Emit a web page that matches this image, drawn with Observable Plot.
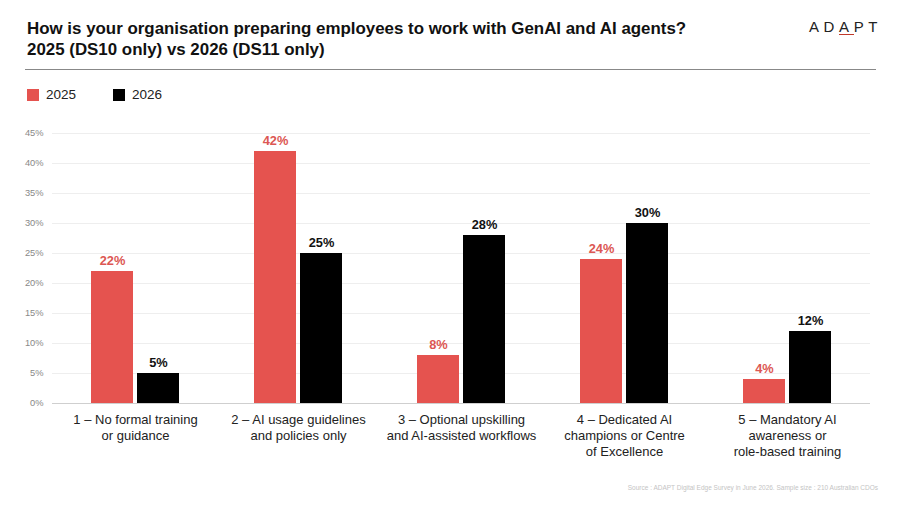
<!DOCTYPE html>
<html><head><meta charset="utf-8">
<script src="https://cdn.jsdelivr.net/npm/d3@7"></script>
<script src="https://cdn.jsdelivr.net/npm/@observablehq/plot@0.6"></script>
<style>
body{margin:0;background:#fff;font-family:"Liberation Sans",Arial,sans-serif;}
#wrap{position:relative;width:900px;height:506px;overflow:hidden;background:#fff;}
#title{position:absolute;left:27px;top:18px;font-size:16.9px;font-weight:bold;line-height:21px;color:#111;}
#logo{position:absolute;left:809px;top:18px;font-size:15px;letter-spacing:4.6px;color:#222;}
#logo span{border-bottom:1.5px solid #c0392b;line-height:14px;display:inline-block;}
#hr{position:absolute;left:25px;top:69px;width:851px;height:0;border-top:1.5px solid #888;}
#legend{position:absolute;left:27px;top:87px;font-size:13.5px;color:#222;display:flex;gap:0;}
.li{display:flex;align-items:center;margin-right:37px;}
.sw{width:12px;height:12px;display:inline-block;margin-right:7px;}
#chart{position:absolute;left:0;top:110px;}
#source{position:absolute;right:22px;top:484px;font-size:6.5px;color:#c4c4c4;}
</style></head><body>
<div id="wrap">
<div id="title">How is your organisation preparing employees to work with GenAI and AI agents?<br>2025 (DS10 only) vs 2026 (DS11 only)</div>
<div id="logo">AD<span>A</span>PT</div>
<div id="hr"></div>
<div id="legend"></div>
<div id="chart"></div>
<div id="source">Source : ADAPT Digital Edge Survey in June 2026. Sample size : 210 Australian CDOs</div>
</div>
<script>
const categories = [
  "1 – No formal training\nor guidance",
  "2 – AI usage guidelines\nand policies only",
  "3 – Optional upskilling\nand AI-assisted workflows",
  "4 – Dedicated AI\nchampions or Centre\nof Excellence",
  "5 – Mandatory AI\nawareness or\nrole-based training"
];
const years = ["2025", "2026"];
const values2025 = [22, 42, 8, 24, 4];
const values2026 = [5, 25, 28, 30, 12];
const yTicks = [0, 5, 10, 15, 20, 25, 30, 35, 40, 45];
const colors = {"2025": "#e5534f", "2026": "#000000"};
const labelColors = {"2025": "#dc5753", "2026": "#111111"};

const d2025 = categories.map((c, i) => ({category: c, year: "2025", value: values2025[i]}));
const d2026 = categories.map((c, i) => ({category: c, year: "2026", value: values2026[i]}));

// legend
const leg = document.getElementById("legend");
years.forEach(y => {
  const el = document.createElement("div");
  el.className = "li";
  el.innerHTML = `<span class="sw" style="background:${colors[y]}"></span>${y}`;
  leg.appendChild(el);
});

const chart = Plot.plot({
  width: 900,
  height: 370,
  marginLeft: 52,
  marginRight: 30,
  marginTop: 23,
  marginBottom: 77,
  style: {fontFamily: "'Liberation Sans', Arial, sans-serif", background: "transparent"},
  x: {domain: categories, type: "band", paddingInner: 0.46, paddingOuter: 0.23, label: null},
  y: {domain: [0, 45], label: null},
  marks: [
    Plot.gridY(yTicks, {stroke: "#eeeeee", strokeOpacity: 1}),
    Plot.axisY(yTicks, {tickSize: 0, tickPadding: 9, tickFormat: d => d + "%", fontSize: 9.3, fill: "#888", label: null}),
    Plot.barY(d2025, {x: "category", y: "value", fill: colors["2025"], insetRight: 46}),
    Plot.barY(d2026, {x: "category", y: "value", fill: colors["2026"], insetLeft: 46}),
    Plot.ruleY([0], {stroke: "#cfcfcf", strokeWidth: 1.2}),
    Plot.text(d2025, {x: "category", y: "value", text: d => d.value + "%", dx: -23, dy: -11, fill: labelColors["2025"], fontWeight: "bold", fontSize: 12.8}),
    Plot.text(d2026, {x: "category", y: "value", text: d => d.value + "%", dx: 23, dy: -11, fill: labelColors["2026"], fontWeight: "bold", fontSize: 12.8}),
    Plot.axisX({tickSize: 0, tickPadding: 9, fontSize: 13, lineHeight: 1.24, fill: "#222", label: null, lineAnchor: "top"})
  ]
});
document.getElementById("chart").appendChild(chart);
</script>
</body></html>
